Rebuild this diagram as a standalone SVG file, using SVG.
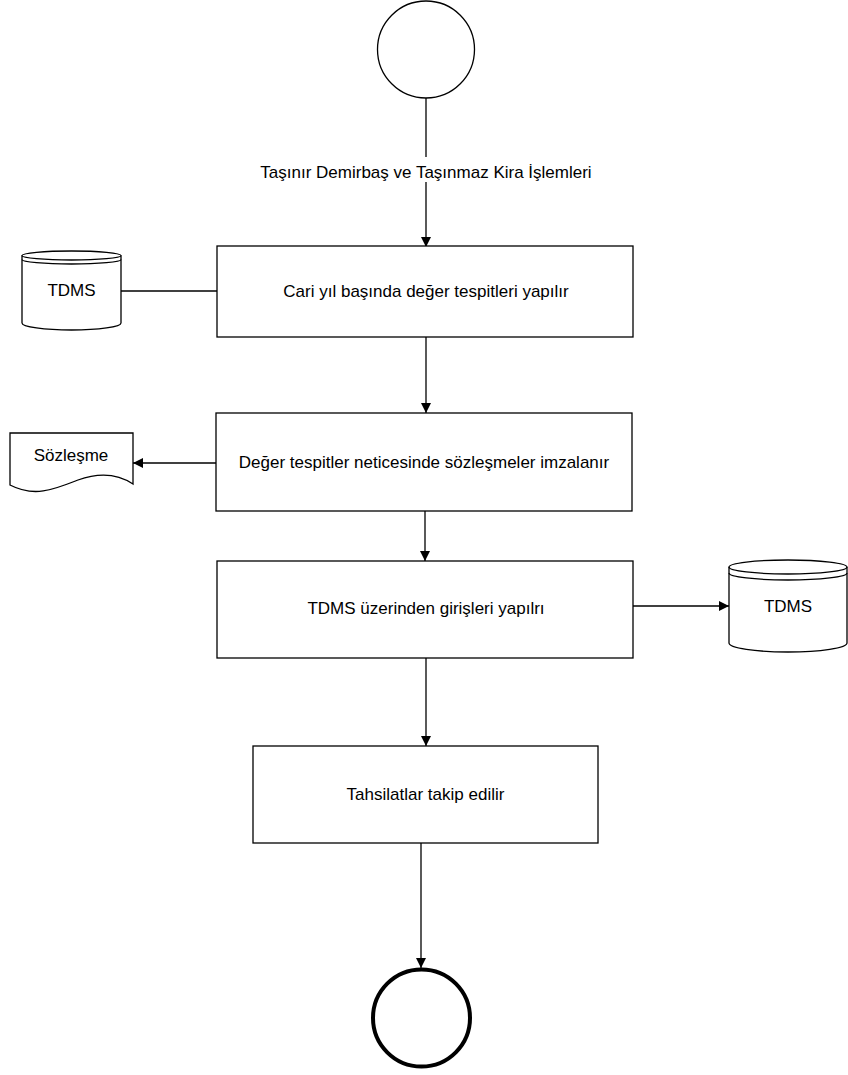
<svg xmlns="http://www.w3.org/2000/svg" width="848" height="1075" viewBox="0 0 848 1075">
<style>
.shape{fill:#fff;stroke:#000;stroke-width:1.3}
.conn{fill:none;stroke:#000;stroke-width:1.3}
.t{font-family:"Liberation Sans",Arial,sans-serif;font-size:17px;fill:#000;text-anchor:middle}
</style>
<defs>
<marker id="arr" markerWidth="10" markerHeight="10" refX="10" refY="5" orient="auto" markerUnits="userSpaceOnUse">
<path d="M0,0 L10,5 L0,10 z" fill="#000"/>
</marker>
</defs>
<rect width="848" height="1075" fill="#fff"/>
<g id="connectors">
<path class="conn" d="M426,98 V247" marker-end="url(#arr)"/>
<path class="conn" d="M121,291 H217"/>
<path class="conn" d="M426,337 V413" marker-end="url(#arr)"/>
<path class="conn" d="M216,463 H133" marker-end="url(#arr)"/>
<path class="conn" d="M425,511 V561" marker-end="url(#arr)"/>
<path class="conn" d="M633,606 H729" marker-end="url(#arr)"/>
<path class="conn" d="M426,658 V746" marker-end="url(#arr)"/>
<path class="conn" d="M421,843 V968" marker-end="url(#arr)"/>
<g id="label1">
<rect x="254" y="157" width="344" height="25" fill="#fff"/>
<text class="t" x="426" y="178">Taşınır Demirbaş ve Taşınmaz Kira İşlemleri</text>
</g>
</g>
<g id="start">
<circle class="shape" cx="426" cy="49.5" r="48.5"/>
</g>
<g id="box1">
<rect class="shape" x="217" y="246" width="416" height="91"/>
<text class="t" x="426" y="297">Cari yıl başında değer tespitleri yapılır</text>
</g>
<g id="tdms1">
<path class="shape" d="M22,255.5 A49.5,4.5 0 0,1 121,255.5 V323 A49.5,7 0 0,1 22,323 Z"/>
<path class="conn" d="M22,255.5 A49.5,4.5 0 0,0 121,255.5 M22,259.5 A49.5,4.5 0 0,0 121,259.5"/>
<text class="t" x="71.5" y="296">TDMS</text>
</g>
<g id="box2">
<rect class="shape" x="216" y="413" width="416" height="98"/>
<text class="t" x="424" y="468">Değer tespitler neticesinde sözleşmeler imzalanır</text>
</g>
<g id="doc">
<path class="shape" d="M10,433 H133 V484 C118,474 100,472 78,480 C55,489 35,498 10,485 Z"/>
<text class="t" x="71" y="461">Sözleşme</text>
</g>
<g id="box3">
<rect class="shape" x="217" y="561" width="416" height="97"/>
<text class="t" x="426" y="614">TDMS üzerinden girişleri yapılrı</text>
</g>
<g id="tdms2">
<path class="shape" d="M729,567 A59,7 0 0,1 847,567 V643 A59,9 0 0,1 729,643 Z"/>
<path class="conn" d="M729,567 A59,7 0 0,0 847,567 M729,573 A59,7 0 0,0 847,573"/>
<text class="t" x="788" y="612">TDMS</text>
</g>
<g id="box4">
<rect class="shape" x="253" y="746" width="345" height="97"/>
<text class="t" x="425.5" y="800">Tahsilatlar takip edilir</text>
</g>
<g id="end">
<circle cx="421.5" cy="1018" r="48.5" fill="#fff" stroke="#000" stroke-width="4"/>
</g>
</svg>
